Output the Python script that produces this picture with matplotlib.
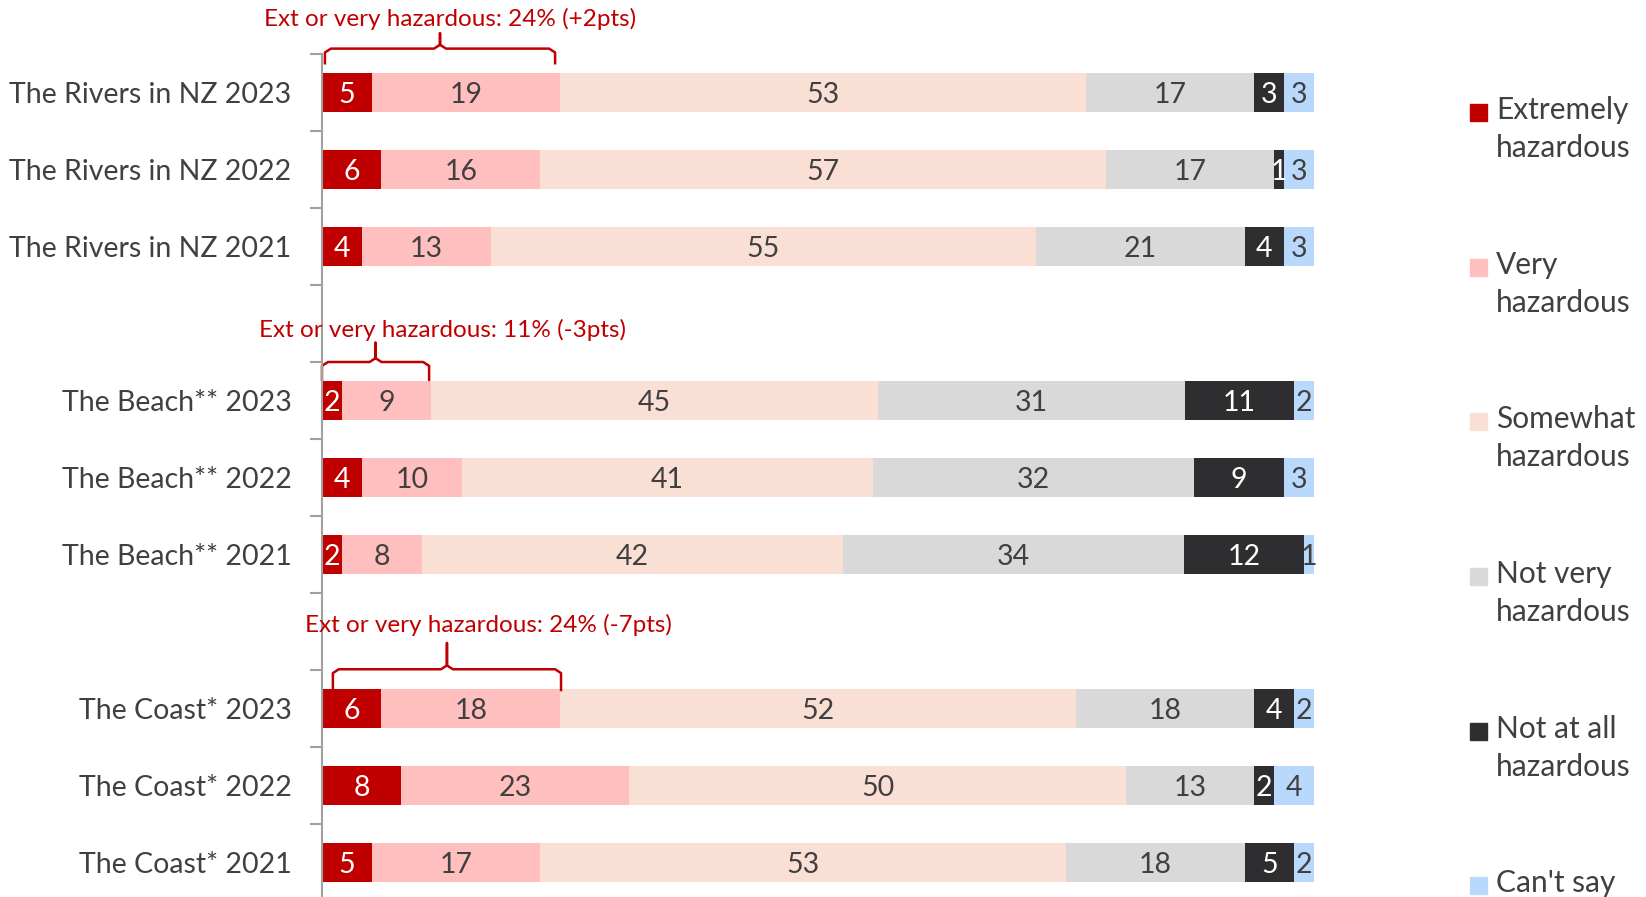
import numpy as np
import matplotlib.pyplot as plt
from matplotlib.patches import Rectangle

plt.rcParams['font.family'] = ['Lato', 'DejaVu Sans']

rows = ['The Rivers in NZ 2023', 'The Rivers in NZ 2022', 'The Rivers in NZ 2021',
        'The Beach** 2023', 'The Beach** 2022', 'The Beach** 2021',
        'The Coast* 2023', 'The Coast* 2022', 'The Coast* 2021']
ypos = [0, 1, 2, 4, 5, 6, 8, 9, 10]

categories = ['Extremely\nhazardous', 'Very\nhazardous', 'Somewhat\nhazardous',
              'Not very\nhazardous', 'Not at all\nhazardous', "Can't say"]
colors = ['#C00000', '#FFBFBF', '#FADFD5', '#D9D9DA', '#2E2E30', '#B8D9FB']
text_colors = ['white', '#404040', '#404040', '#404040', 'white', '#404040']

extremely = [5, 6, 4, 2, 4, 2, 6, 8, 5]
very = [19, 16, 13, 9, 10, 8, 18, 23, 17]
somewhat = [53, 57, 55, 45, 41, 42, 52, 50, 53]
not_very = [17, 17, 21, 31, 32, 34, 18, 13, 18]
not_at_all = [3, 1, 4, 11, 9, 12, 4, 2, 5]
cant_say = [3, 3, 3, 2, 3, 1, 2, 4, 2]

# annotation text, bar row it sits above, text x, brace from/to
notes = ['Ext or very hazardous: 24% (+2pts)',
         'Ext or very hazardous: 11% (-3pts)',
         'Ext or very hazardous: 24% (-7pts)']
note_row = [0, 4, 8]
note_x = [12.9, 12.2, 16.8]
note_dy = [-0.96, -0.91, -1.08]
brace_x0 = [0.3, 0.0, 1.1]
brace_x1 = [23.5, 10.8, 24.1]
brace_tip = [11.9, 5.4, 12.6]
brace_dy = [(-0.38, -0.57, -0.77), (-0.27, -0.5, -0.75), (-0.24, -0.51, -0.85)]

data = np.array([extremely, very, somewhat, not_very, not_at_all, cant_say], dtype=float)
widths = data / data.sum(axis=0) * 100

fig = plt.figure(figsize=(16.46, 8.97), dpi=100)
ax = fig.add_axes([0.1956, -0.0045, 0.6027, 0.9443])

left = np.zeros(len(rows))
for i in range(len(categories)):
    ax.barh(ypos, widths[i], left=left, height=0.5, color=colors[i], linewidth=0)
    for j in range(len(rows)):
        ax.text(left[j] + widths[i][j] / 2, ypos[j] + 0.03, str(int(data[i][j])),
                ha='center', va='center', fontsize=20.5, color=text_colors[i])
    left += widths[i]

ax.set_xlim(0, 100)
ax.set_ylim(10.5, -0.5)
ax.set_xticks([])
ax.set_yticks(ypos)
ax.set_yticklabels(rows, fontsize=20.5, color='#404040')
ax.tick_params(axis='y', which='major', length=0, pad=22)
ax.set_yticks(np.arange(-0.5, 11, 1), minor=True)
ax.tick_params(axis='y', which='minor', length=9, width=1.5, color='#A0A0A0')
for s in ['top', 'right', 'bottom']:
    ax.spines[s].set_visible(False)
ax.spines['left'].set_color('#A0A0A0')
ax.spines['left'].set_linewidth(1.5)

red = '#C00000'
for k in range(len(notes)):
    yb = note_row[k]
    e, l, t = brace_dy[k]
    x0, x1, xm = brace_x0[k], brace_x1[k], brace_tip[k]
    r = 0.6
    bx = [x0, x0, x0 + r, xm - r, xm, xm, xm, xm + r, x1 - r, x1, x1]
    by = [yb + e, yb + l + 0.05, yb + l, yb + l, yb + l - 0.05, yb + t,
          yb + l - 0.05, yb + l, yb + l, yb + l + 0.05, yb + e]
    ax.plot(bx, by, color=red, lw=1.8, clip_on=False, solid_joinstyle='round')
    ax.text(note_x[k], yb + note_dy[k], notes[k], ha='center', va='center',
            fontsize=17.5, color=red, clip_on=False)

# legend on the right
leg_y = [112, 267, 421, 576, 731, 885]
for i, cat in enumerate(categories):
    yf = 1 - leg_y[i] / 897
    fig.patches.append(Rectangle((1470 / 1646, yf - 9 / 897), 17 / 1646, 17 / 897,
                                 transform=fig.transFigure, color=colors[i]))
    fig.text(1496 / 1646, yf + 16 / 897, cat, ha='left', va='top', fontsize=21.5,
             color='#404040', linespacing=1.45)

fig.savefig('out.png', dpi=100)
